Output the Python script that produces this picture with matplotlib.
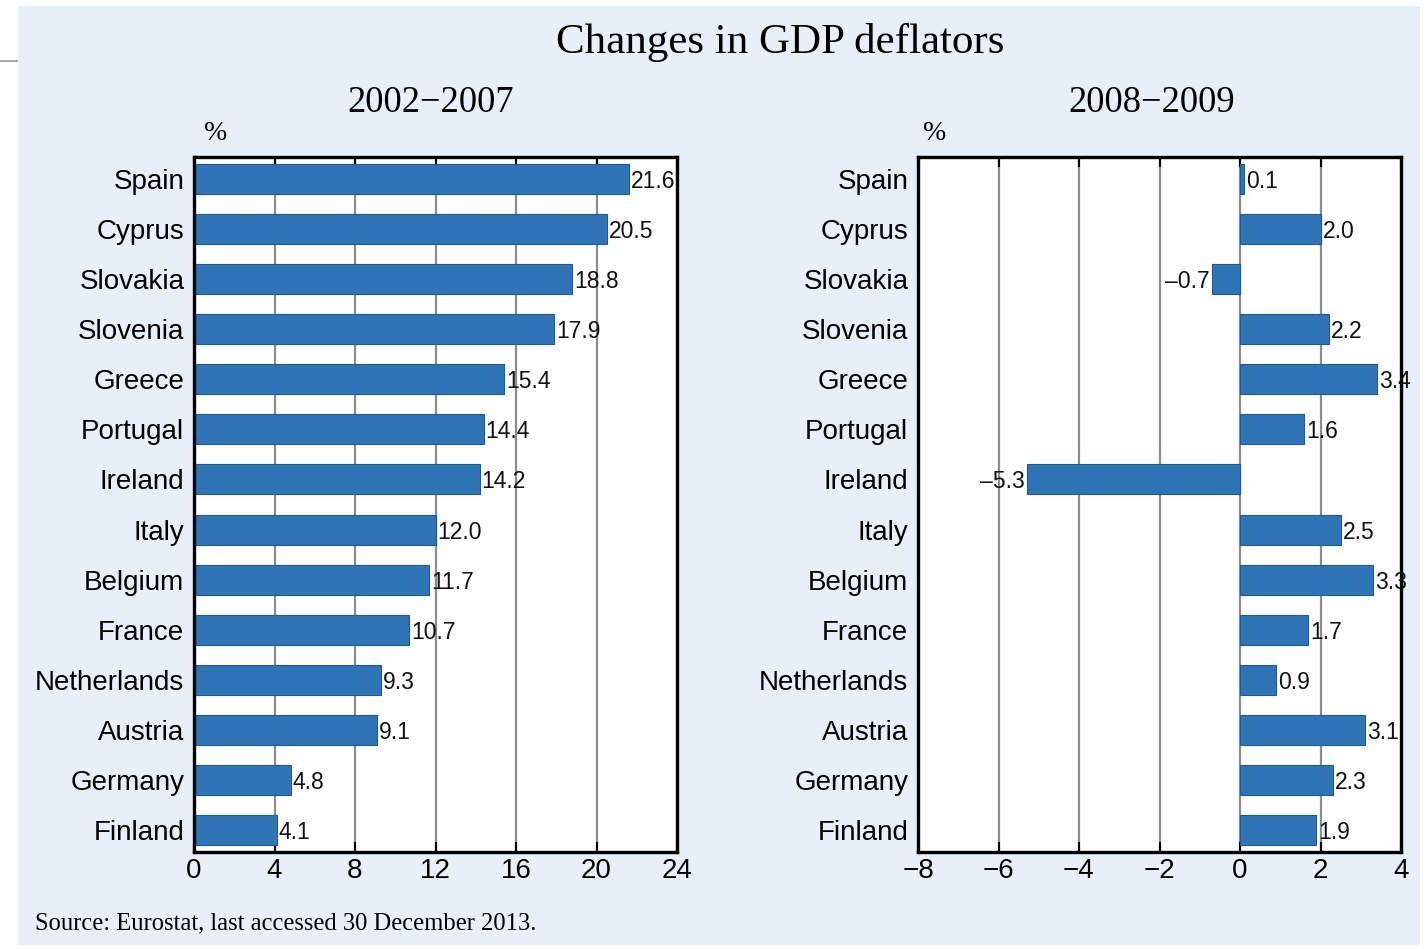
import numpy as np
import matplotlib.pyplot as plt
from matplotlib.patches import Rectangle
from matplotlib.lines import Line2D

countries = ["Spain", "Cyprus", "Slovakia", "Slovenia", "Greece", "Portugal", "Ireland",
             "Italy", "Belgium", "France", "Netherlands", "Austria", "Germany", "Finland"]
vals_0207 = [21.6, 20.5, 18.8, 17.9, 15.4, 14.4, 14.2, 12.0, 11.7, 10.7, 9.3, 9.1, 4.8, 4.1]
vals_0809 = [0.1, 2.0, -0.7, 2.2, 3.4, 1.6, -5.3, 2.5, 3.3, 1.7, 0.9, 3.1, 2.3, 1.9]
ticks_0207 = [0, 4, 8, 12, 16, 20, 24]
ticks_0809 = [-8, -6, -4, -2, 0, 2, 4]

W, H = 1428, 949
bar_col = "#2e75b8"
edge_col = "#1f5a94"
sans = "Liberation Sans"
serif = "Liberation Serif"

fig = plt.figure(figsize=(W / 100, H / 100), dpi=100)
fig.patch.set_facecolor("white")

# light blue panel + small rule on the left
fig.patches.append(Rectangle((18 / W, 1 - 945 / H), (1420 - 18) / W, (945 - 6) / H,
                             transform=fig.transFigure, facecolor="#e8eff9",
                             edgecolor="none", zorder=-5))
fig.lines.append(Line2D([0, 18 / W], [1 - 61 / H, 1 - 61 / H], transform=fig.transFigure,
                        color="#999999", lw=1.2, zorder=-5))


def px(x, y):
    return x / W, 1 - y / H


def panel(left_px, vals, ticks, subtitle, sub_x, pct_x):
    ax = fig.add_axes([left_px / W, 1 - 852 / H, (677 - 194) / W, (852 - 157) / H])
    ax.set_facecolor("white")
    y = np.arange(len(countries))
    lo, hi = ticks[0], ticks[-1]
    for t in ticks[1:-1]:
        ax.axvline(t, color="#8c8c8c", lw=1.6, zorder=1)
    ax.barh(y, vals, height=0.6, color=bar_col, edgecolor=edge_col, lw=0.8, zorder=2)
    off = 0.004 * (hi - lo)
    for yi, v in zip(y, vals):
        if v >= 0:
            ax.text(v + off, yi + 0.05, f"{v:.1f}", va="center", ha="left",
                    fontsize=16.5, family=sans, color="#111111", zorder=3)
        else:
            ax.text(v - off, yi + 0.05, "\u2013" + f"{abs(v):.1f}", va="center",
                    ha="right", fontsize=16.5, family=sans, color="#111111", zorder=3)
    ax.set_xlim(lo, hi)
    ax.set_ylim(len(countries) - 1 + 0.44, -0.44)
    ax.set_xticks(ticks)
    ax.set_xticklabels([str(t).replace("-", "\u2212") for t in ticks], family=sans, fontsize=20)
    ax.set_yticks(y)
    ax.set_yticklabels(countries, family=sans, fontsize=20)
    ax.tick_params(axis="x", direction="in", length=7, width=1.5, top=True, pad=4,
                   colors="black")
    ax.tick_params(axis="y", length=0, pad=7)
    for s in ax.spines.values():
        s.set_linewidth(2.4)
        s.set_color("black")
    fig.text(*px(sub_x, 103), subtitle, ha="center", va="center", family=serif, fontsize=26.3)
    fig.text(*px(pct_x, 134), "%", ha="center", va="center", family=serif, fontsize=20)
    return ax


panel(194, vals_0207, ticks_0207, "2002\u22122007", 431, 216)
panel(918, vals_0809, ticks_0809, "2008\u22122009", 1152, 935)

fig.text(*px(780, 43), "Changes in GDP deflators", ha="center", va="center",
         family=serif, fontsize=31)
fig.text(*px(35, 923), "Source: Eurostat, last accessed 30 December 2013.", ha="left",
         va="center", family=serif, fontsize=17.7)

fig.savefig("out.png", dpi=100)
